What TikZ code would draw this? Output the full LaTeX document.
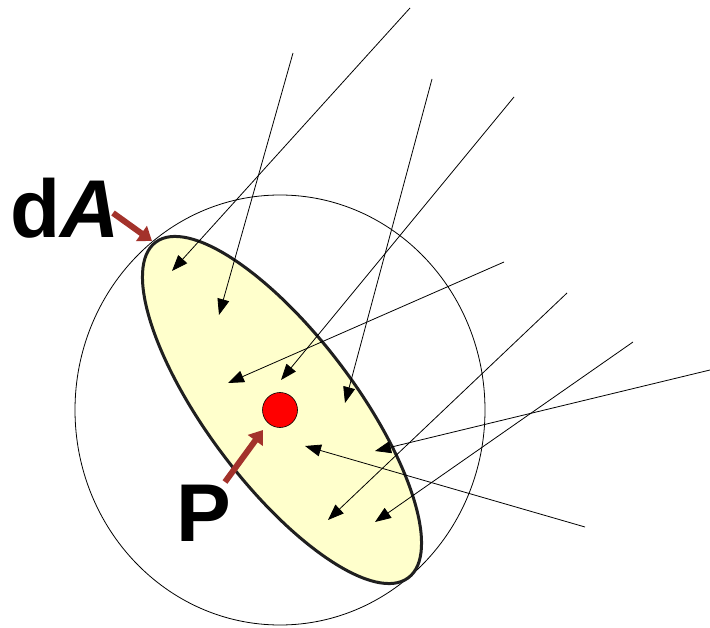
\documentclass[tikz,border=0pt]{standalone}
\usepackage{fontspec}
\setmainfont{Liberation Sans}
\usetikzlibrary{shapes.geometric, arrows.meta}
\definecolor{patchfill}{HTML}{FFFFCC}
\definecolor{pointerred}{HTML}{A3322B}

\begin{document}
\begin{tikzpicture}[
  x=1pt, y=-1pt,
  >={Triangle[length=16pt,width=12pt]},
  ray/.style={->, line width=0.8pt, black},
  sphere/.style={
    ellipse, draw, line width=0.8pt,
    minimum width=410pt, minimum height=430pt,
    inner sep=0pt
  },
  patch/.style={
    ellipse, draw=black!88, fill=patchfill,
    line width=3pt,
    minimum width=420pt, minimum height=148pt,
    rotate=-53, inner sep=0pt
  },
  dot/.style={circle, draw, fill=red, line width=0.6pt,
    minimum size=35pt, inner sep=0pt},
  pointer/.style={-{Triangle[length=13pt,width=18pt]},
    line width=6pt, draw=pointerred},
  biglabel/.style={font=\fontsize{82}{90}\selectfont\bfseries,
    inner sep=0pt, anchor=base west}
]
\useasboundingbox (0,0) rectangle (710,628);

%% Sphere and surface element
\node[sphere] (ball) at (280,410) {};
\node[patch] (dA) at (282,410) {};

%% --- Incoming rays ---
\coordinate (src1) at (410,8);   \coordinate (tip1) at (172,271);
\coordinate (src2) at (293,53);  \coordinate (tip2) at (219,315);
\coordinate (src3) at (432,79);  \coordinate (tip3) at (345,403);
\coordinate (src4) at (514,97);  \coordinate (tip4) at (281,380);
\coordinate (src5) at (504,262); \coordinate (tip5) at (228,383);
\coordinate (src6) at (567,293); \coordinate (tip6) at (328,520);
\coordinate (src7) at (633,342); \coordinate (tip7) at (375,522);
\coordinate (src8) at (710,370); \coordinate (tip8) at (375,451);
\coordinate (src9) at (585,527); \coordinate (tip9) at (305,446);

\foreach \i in {1,...,9}
  \draw[ray] (src\i) -- (tip\i);

%% Point P
\node[dot] (P) at (280,410) {};

%% Labels
\node[biglabel] (dAlabel) at (10,238) {d\textit{A}};
\node[biglabel] (Plabel) at (176,541) {P};

\coordinate (dAfrom) at (113,213); \coordinate (dAto) at (152,241);
\coordinate (Pfrom) at (225,482);  \coordinate (Pto) at (263,430);

\draw[pointer] (dAfrom) -- (dAto);
\draw[pointer] (Pfrom) -- (Pto);

\end{tikzpicture}
\end{document}
